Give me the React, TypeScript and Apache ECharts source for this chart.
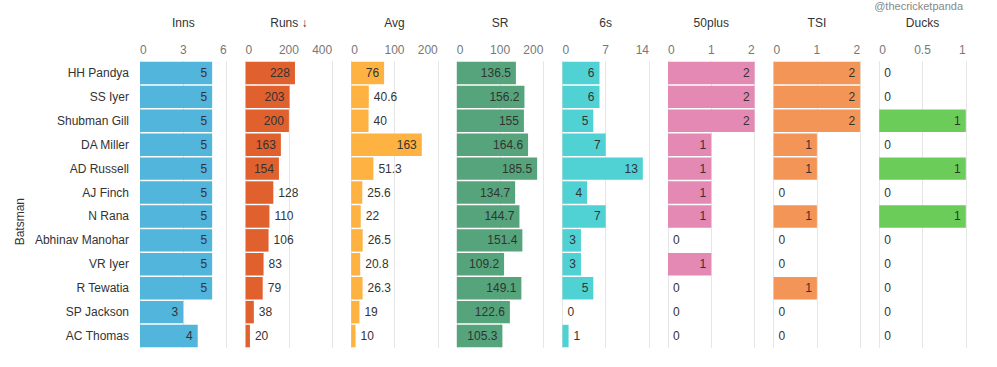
import React, { useEffect, useRef } from "react";
import * as echarts from "echarts";

const batsmen = [
  "HH Pandya", "SS Iyer", "Shubman Gill", "DA Miller", "AD Russell", "AJ Finch",
  "N Rana", "Abhinav Manohar", "VR Iyer", "R Tewatia", "SP Jackson", "AC Thomas",
];
const inns = [5, 5, 5, 5, 5, 5, 5, 5, 5, 5, 3, 4];
const runs = [228, 203, 200, 163, 154, 128, 110, 106, 83, 79, 38, 20];
const avg = [76, 40.6, 40, 163, 51.3, 25.6, 22, 26.5, 20.8, 26.3, 19, 10];
const sr = [136.5, 156.2, 155, 164.6, 185.5, 134.7, 144.7, 151.4, 109.2, 149.1, 122.6, 105.3];
const sixes = [6, 6, 5, 7, 13, 4, 7, 3, 3, 5, 0, 1];
const fifties = [2, 2, 2, 1, 1, 1, 1, 0, 1, 0, 0, 0];
const tsi = [2, 2, 2, 1, 1, 0, 1, 0, 0, 1, 0, 0];
const ducks = [0, 0, 1, 0, 1, 0, 1, 0, 0, 0, 0, 0];

const panelTitles = ["Inns", "Runs \u2193", "Avg", "SR", "6s", "50plus", "TSI", "Ducks"];
const panelMax = [6, 400, 200, 200, 14, 2, 2, 1];
const panelInterval = [3, 200, 100, 100, 7, 1, 1, 0.5];
const panelData = [inns, runs, avg, sr, sixes, fifties, tsi, ducks];
const panelColors = ["#52B5DB", "#E0602E", "#FDB241", "#55A47B", "#50D2D5", "#E389B4", "#F39556", "#6BCC59"];

const GRID_LEFT = 140;
const PANEL_STEP = 105.6;
const PANEL_W = 86.6;
const GRID_TOP = 61;
const GRID_H = 287;

function textWidth(s: string) {
  let w = 0;
  for (const ch of s) w += ch === "." ? 3.3 : 6.7;
  return w;
}

export default function App() {
  const ref = useRef<HTMLDivElement>(null);
  useEffect(() => {
    if (!ref.current) return;
    const chart = echarts.init(ref.current, null, { renderer: "svg" });
    const font = "'Liberation Sans', Arial, sans-serif";
    const grids: any[] = [];
    const xAxes: any[] = [];
    const yAxes: any[] = [];
    const series: any[] = [];
    panelData.forEach((vals, i) => {
      grids.push({ left: GRID_LEFT + i * PANEL_STEP, top: GRID_TOP, width: PANEL_W, height: GRID_H });
      xAxes.push({
        gridIndex: i,
        type: "value",
        position: "top",
        min: 0,
        max: panelMax[i],
        interval: panelInterval[i],
        name: panelTitles[i],
        nameLocation: "middle",
        nameGap: 32,
        nameTextStyle: { color: "#333", fontSize: 12, fontFamily: font },
        axisLine: { show: false },
        axisTick: { show: false },
        axisLabel: {
          color: "#777",
          fontSize: 12,
          fontFamily: font,
          margin: 5,
          alignMinLabel: "left",
          alignMaxLabel: "right",
        },
        splitLine: { show: true, lineStyle: { color: "#E6E6E6", width: 1 } },
      });
      yAxes.push({
        gridIndex: i,
        type: "category",
        data: batsmen,
        inverse: true,
        axisLine: { show: false },
        axisTick: { show: false },
        axisLabel: i === 0
          ? { show: true, color: "#333", fontSize: 12, fontFamily: font, margin: 11 }
          : { show: false },
        splitLine: { show: false },
      });
      series.push({
        type: "bar",
        xAxisIndex: i,
        yAxisIndex: i,
        barCategoryGap: "6%",
        itemStyle: { color: panelColors[i] },
        data: vals.map((v) => {
          const txt = String(v);
          const barPx = (v / panelMax[i]) * PANEL_W;
          const inside = barPx >= textWidth(txt) + 11;
          return {
            value: v,
            label: {
              show: true,
              position: inside ? "insideRight" : "right",
              distance: 5,
              color: "#333",
              fontSize: 12,
              fontFamily: font,
            },
          };
        }),
      });
    });
    chart.setOption({
      animation: false,
      backgroundColor: "#fff",
      grid: grids,
      xAxis: xAxes,
      yAxis: yAxes,
      series,
      graphic: [
        {
          type: "text",
          left: 14,
          top: 198,
          rotation: Math.PI / 2,
          style: { text: "Batsman", fill: "#333", fontSize: 12, fontFamily: font },
        },
        {
          type: "text",
          right: 34,
          top: 0,
          style: { text: "@thecricketpanda", fill: "#888", fontSize: 11, fontFamily: font },
        },
      ],
    });
    return () => chart.dispose();
  }, []);
  return <div ref={ref} style={{ position: "fixed", left: 0, top: 0, width: 997, height: 367 }} />;
}
